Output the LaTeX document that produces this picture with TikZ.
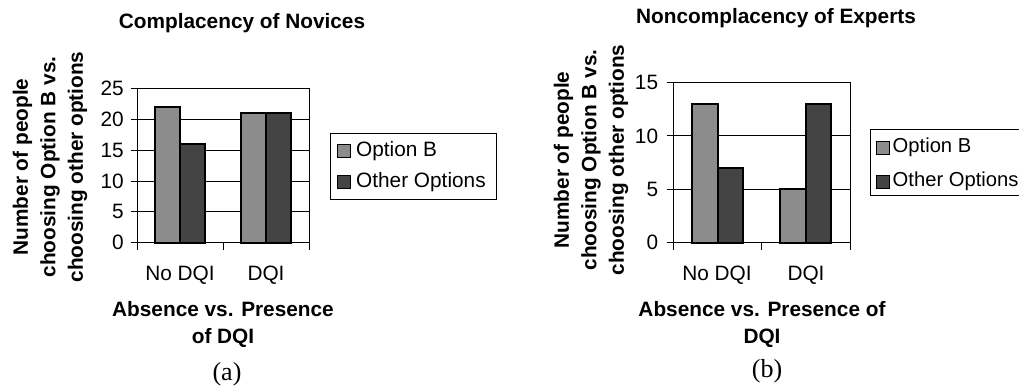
\documentclass[tikz,border=0pt]{standalone}
\usepackage{fontspec}
\setmainfont{Liberation Sans}
\newfontfamily\capfont{Liberation Serif}
\usepackage{xcolor}
\usetikzlibrary{positioning}
\definecolor{optb}{HTML}{8C8C8C}
\definecolor{other}{HTML}{444444}

\begin{document}
\begin{tikzpicture}[x=1pt,y=-1pt,font=\fontsize{20.8}{27.5}\selectfont]
  \tikzstyle{bar}=[draw=black,line width=2pt]
  \tikzstyle{grid}=[line width=1pt]
  \tikzstyle{num}=[inner sep=0pt,anchor=east]
  \tikzstyle{lbl}=[inner sep=0pt]
  \tikzstyle{ttl}=[inner sep=0pt,align=center,font=\fontsize{20.8}{27.5}\selectfont\bfseries]
  \tikzstyle{key}=[draw=black,line width=1.2pt,minimum size=13pt,inner sep=0pt]
  \tikzstyle{legbox}=[draw=black,line width=1pt,inner sep=0pt]
  \useasboundingbox (0,0) rectangle (1019,387);

  % left chart: novices
  \begin{scope}[shift={(137,242.7)},y=6.16pt]
    \foreach \v in {0,5,...,25} {
      \draw[grid] (-6,\v) -- (172,\v);
      \node[num] (na\v) at (-13,\v) {\v};
    }
    \foreach \c/\b/\o in {43/22/16,129/21/21} {
      \draw[bar,fill=optb] (\c-24.6,0) rectangle (\c,\b);
      \draw[bar,fill=other] (\c,0) rectangle (\c+24.6,\o);
    }
    \draw[grid] (0,0) rectangle (172,25);
    \foreach \t in {0,86,172} \draw[grid] (\t,0) -- ++(0pt,-7pt);
  \end{scope}
  \node[ttl] (titleA) at (242,23) {Complacency of Novices};
  \node[ttl,rotate=90] (yA) at (50,167) {Number of people\\choosing Option B vs.\\choosing other options};
  \node[lbl] (noA) at (180,275) {No DQI};
  \node[lbl] (dqA) at (266,275) {DQI};
  \node[ttl] (xA) at (223,324.3) {Absence vs. Presence\\of DQI};
  \node[lbl,font=\capfont\fontsize{26}{30}\selectfont] (capA) at (227,374.5) {(a)};
  \draw[legbox] (330.7,133.3) rectangle (496.7,199.3);
  \node[key,fill=optb] (kbA) at (344,151) {};
  \node[key,fill=other] (koA) at (344,182) {};
  \node[lbl,anchor=west] at (356,151) {Option B};
  \node[lbl,anchor=west] at (356,182) {Other Options};

  % right chart: experts
  \begin{scope}[shift={(673.3,242.7)},y=10.67pt]
    \foreach \v in {0,5,...,15} {
      \draw[grid] (-6,\v) -- (176.7,\v);
      \node[num] (nb\v) at (-15,\v) {\v};
    }
    \foreach \c/\b/\o in {44.2/13/7,132.5/5/13} {
      \draw[bar,fill=optb] (\c-25.4,0) rectangle (\c,\b);
      \draw[bar,fill=other] (\c,0) rectangle (\c+25.4,\o);
    }
    \draw[grid] (0,0) rectangle (176.7,15);
    \foreach \t in {0,88.35,176.7} \draw[grid] (\t,0) -- ++(0pt,-7pt);
  \end{scope}
  \node[ttl] (titleB) at (776,18) {Noncomplacency of Experts};
  \node[ttl,rotate=90] (yB) at (591,160) {Number of people\\choosing Option B vs.\\choosing other options};
  \node[lbl] (noB) at (717,275) {No DQI};
  \node[lbl] (dqB) at (806,275) {DQI};
  \node[ttl] (xB) at (762,324.3) {Absence vs. Presence of\\DQI};
  \node[lbl,font=\capfont\fontsize{26}{30}\selectfont] (capB) at (767,371) {(b)};
  \draw[legbox] (870,130) rectangle (1030,196);
  \node[key,fill=optb] (kbB) at (883,147.7) {};
  \node[key,fill=other] (koB) at (883,181.7) {};
  \begin{scope}[font=\fontsize{20.2}{27.5}\selectfont]
    \node[lbl,anchor=west] at (892.5,147.7) {Option B};
    \node[lbl,anchor=west] at (892.5,181.7) {Other Options};
  \end{scope}
\end{tikzpicture}
\end{document}
